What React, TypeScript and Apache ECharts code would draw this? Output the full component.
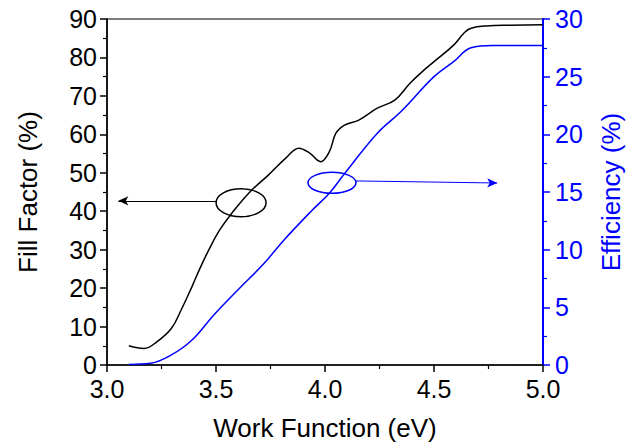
import React, { useEffect, useRef } from "react";
import * as echarts from "echarts";

const workFunction = [3.1, 3.17, 3.23, 3.295, 3.34, 3.39, 3.43, 3.48, 3.52, 3.57, 3.65, 3.74, 3.82, 3.88, 3.93, 3.98, 4.02, 4.05, 4.09, 4.155, 4.24, 4.32, 4.39, 4.45, 4.5, 4.59, 4.64, 4.67, 4.74, 4.85, 5.0];
const fillFactor = [5.0, 4.3, 6.1, 9.5, 14.3, 20.4, 25.6, 31.4, 35.4, 39.3, 44.7, 49.4, 53.8, 56.4, 55.1, 52.9, 55.5, 60.3, 62.4, 63.7, 66.8, 68.9, 73.3, 76.5, 78.9, 83.2, 86.5, 87.6, 88.2, 88.4, 88.5];

const workFunctionEff = [3.1, 3.2, 3.295, 3.39, 3.49, 3.6, 3.72, 3.81, 3.94, 4.02, 4.09, 4.24, 4.35, 4.5, 4.59, 4.67, 4.77, 5.0];
const efficiency = [0.05, 0.15, 0.87, 2.17, 4.34, 6.5, 8.8, 10.8, 13.4, 14.9, 16.6, 20.1, 22.0, 25.0, 26.3, 27.5, 27.7, 27.7];

// annotation anchors (data units)
const ffEllipse = [3.615, 42.2];
const effEllipse = [4.032, 15.8];
const ffArrow = [[3.501, 42.7], [3.052, 42.7]];
const effArrow = [[4.142, 15.96], [4.79, 15.78]];

const FONT = "Liberation Sans, Arial, sans-serif";
const BLUE = "#0000ff";
const FS = 25;

export default function App() {
  const ref = useRef<HTMLDivElement>(null);
  useEffect(() => {
    document.body.style.margin = "0";
    const chart = echarts.init(ref.current!, null, { renderer: "svg" });
    const ffData = workFunction.map((x, i) => [x, fillFactor[i]]);
    const effData = workFunctionEff.map((x, i) => [x, efficiency[i]]);
    chart.setOption({
      animation: false,
      grid: { left: 107, right: 87, top: 19, bottom: 81, show: true, borderColor: "#000", borderWidth: 1.2, backgroundColor: "transparent" },
      xAxis: {
        type: "value", min: 3, max: 5, interval: 0.5,
        name: "Work Function (eV)", nameLocation: "middle", nameGap: 50,
        nameTextStyle: { fontFamily: FONT, fontSize: FS + 1, color: "#000" },
        axisLine: { show: true, lineStyle: { color: "#000", width: 1.5 } },
        axisTick: { show: true, length: 7, lineStyle: { color: "#000", width: 1.5 } },
        minorTick: { show: true, splitNumber: 2, length: 4, lineStyle: { color: "#000", width: 1.2 } },
        axisLabel: { fontFamily: FONT, fontSize: FS, color: "#000", margin: 11, formatter: (v: number) => v.toFixed(1) },
        splitLine: { show: false },
      },
      yAxis: [
        {
          type: "value", min: 0, max: 90, interval: 10, position: "left",
          name: "Fill Factor (%)", nameLocation: "middle", nameGap: 66,
          nameTextStyle: { fontFamily: FONT, fontSize: FS + 1, color: "#000" },
          axisLine: { show: true, lineStyle: { color: "#000", width: 1.5 } },
          axisTick: { show: true, length: 7, lineStyle: { color: "#000", width: 1.5 } },
          minorTick: { show: true, splitNumber: 2, length: 4, lineStyle: { color: "#000", width: 1.2 } },
          axisLabel: { fontFamily: FONT, fontSize: FS, color: "#000", margin: 10 },
          splitLine: { show: false },
        },
        {
          type: "value", min: 0, max: 30, interval: 5, position: "right",
          name: "Efficiency (%)", nameLocation: "middle", nameGap: 55,
          nameTextStyle: { fontFamily: FONT, fontSize: FS + 1, color: BLUE },
          axisLine: { show: true, lineStyle: { color: BLUE, width: 2 } },
          axisTick: { show: true, length: 7, lineStyle: { color: BLUE, width: 1.5 } },
          minorTick: { show: true, splitNumber: 2, length: 4, lineStyle: { color: BLUE, width: 1.2 } },
          axisLabel: { fontFamily: FONT, fontSize: FS, color: BLUE, margin: 12 },
          splitLine: { show: false },
        },
      ],
      series: [
        {
          type: "line", data: ffData, yAxisIndex: 0, smooth: 0.4, showSymbol: false,
          lineStyle: { color: "#000", width: 1.5 }, itemStyle: { color: "#000" },
          markLine: {
            silent: true, symbol: ["none", "arrow"], symbolSize: [7, 10],
            label: { show: false },
            lineStyle: { color: "#000", width: 1, type: "solid" },
            data: [[{ coord: ffArrow[0] }, { coord: ffArrow[1] }]],
          },
        },
        {
          type: "line", data: effData, yAxisIndex: 1, smooth: 0.4, showSymbol: false,
          lineStyle: { color: BLUE, width: 1.5 }, itemStyle: { color: BLUE },
          markLine: {
            silent: true, symbol: ["none", "arrow"], symbolSize: [7, 10],
            label: { show: false },
            lineStyle: { color: BLUE, width: 1, type: "solid" },
            data: [[{ coord: effArrow[0] }, { coord: effArrow[1] }]],
          },
        },
      ],
    });
    const p1 = chart.convertToPixel({ xAxisIndex: 0, yAxisIndex: 0 }, ffEllipse) as number[];
    const p2 = chart.convertToPixel({ xAxisIndex: 0, yAxisIndex: 1 }, effEllipse) as number[];
    chart.setOption({
      graphic: [
        { type: "ellipse", shape: { cx: p1[0], cy: p1[1], rx: 25, ry: 14 }, style: { fill: "none", stroke: "#000", lineWidth: 1.5 }, z: 100 },
        { type: "ellipse", shape: { cx: p2[0], cy: p2[1], rx: 24, ry: 10.5 }, style: { fill: "none", stroke: BLUE, lineWidth: 1.5 }, z: 100 },
      ],
    });
    return () => chart.dispose();
  }, []);
  return <div ref={ref} style={{ width: 632, height: 446 }} />;
}
